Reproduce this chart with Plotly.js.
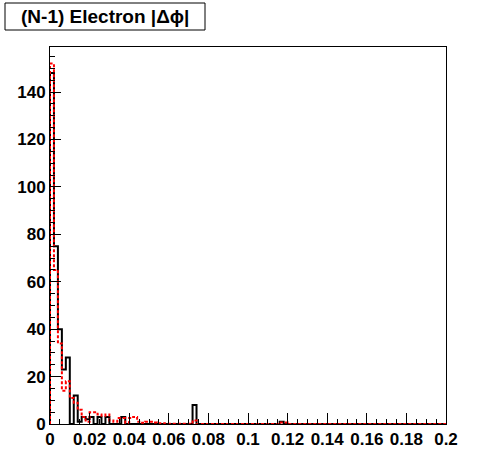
<!DOCTYPE html>
<html>
<head>
<meta charset="utf-8">
<script src="https://cdn.plot.ly/plotly-3.0.1.min.js"></script>
<style>html,body{margin:0;padding:0;background:#fff;}#chart{width:496px;height:472px;}</style>
</head>
<body>
<div id="chart"></div>
<script>
// Histogram definition: 100 bins from 0 to 0.2
var binLow = 0.0;
var binWidth = 0.002;
var nBins = 100;

// Data (black, solid) bin contents
var dataCounts = [
  148, 75, 40, 23, 28, 0, 12, 1, 3, 2,
  3, 0, 3, 0, 3, 0, 0, 0, 3, 0,
  0, 0, 0, 0, 0, 0, 0, 0, 0, 0,
  0, 0, 0, 0, 0, 0, 8, 0, 0, 0,
  0, 0, 0, 0, 0, 0, 0, 0, 0, 0,
  0, 0, 0, 0, 0, 0, 0, 0, 1, 0,
  0, 0, 0, 0, 0, 0, 0, 0, 0, 0,
  0, 0, 0, 0, 0, 0, 0, 0, 0, 0,
  0, 0, 0, 0, 0, 0, 0, 0, 0, 0,
  0, 0, 0, 0, 0, 0, 0, 0, 0, 0
];

// Simulation (red, dotted) bin contents
var mcCounts = [
  152, 65, 34, 14, 18, 11, 9, 6, 3, 1,
  5, 5, 4, 3.5, 4, 1.5, 1, 2.5, 2.5, 0.5,
  2.5, 3, 1, 0.5, 1, 1, 0.6, 0.3, 0.3, 0.1,
  0.1, 0.1, 0.1, 0.1, 0.1, 0.1, 1.5, 0.05, 0.05, 0.05,
  0.05, 0.05, 0.05, 0.05, 0.05, 0.05, 0.05, 0.05, 0.05, 0.05,
  0.05, 0.05, 0.05, 0.05, 0.05, 0.05, 0.05, 0.05, 0.6, 0.6,
  0, 0, 0, 0, 0, 0, 0, 0, 0, 0,
  0, 0, 0, 0, 0, 0, 0, 0, 0, 0,
  0, 0, 0, 0, 0, 0, 0, 0, 0, 0,
  0, 0, 0, 0, 0, 0, 0, 0, 0, 0
];

var xTickVals = [0, 0.02, 0.04, 0.06, 0.08, 0.1, 0.12, 0.14, 0.16, 0.18, 0.2];
var xTickText = ["0", "0.02", "0.04", "0.06", "0.08", "0.1", "0.12", "0.14", "0.16", "0.18", "0.2"];
var yTickVals = [0, 20, 40, 60, 80, 100, 120, 140];
var yTickText = ["0", "20", "40", "60", "80", "100", "120", "140"];
var titleText = "(N-1) Electron |Δϕ|";

function stepXY(counts) {
  var xs = [binLow], ys = [0];
  for (var i = 0; i < nBins; i++) {
    xs.push(binLow + i * binWidth);
    ys.push(counts[i]);
  }
  xs.push(binLow + nBins * binWidth);
  ys.push(counts[nBins - 1]);
  return {x: xs, y: ys};
}

var d = stepXY(dataCounts);
var m = stepXY(mcCounts);

var traces = [
  {x: d.x, y: d.y, type: 'scatter', mode: 'lines', line: {shape: 'hv', color: '#000000', width: 2}, hoverinfo: 'skip', showlegend: false},
  {x: m.x, y: m.y, type: 'scatter', mode: 'lines', line: {shape: 'hv', color: '#ff0000', width: 2, dash: '3px,2px'}, hoverinfo: 'skip', showlegend: false}
];

var L = 50, R = 50, T = 47, B = 48, W = 496, H = 472;
var pw = W - L - R, ph = H - T - B;
function px2x(px) { return (px - L) / pw; }
function py2y(py) { return (H - B - py) / ph; }

var tickFont = {family: 'Liberation Sans, Arial, sans-serif', size: 17, color: '#000', weight: 'bold'};

var layout = {
  width: W, height: H,
  margin: {l: L, r: R, t: T, b: B, pad: 0},
  paper_bgcolor: '#ffffff', plot_bgcolor: '#ffffff',
  showlegend: false,
  xaxis: {
    range: [0, 0.2], showgrid: false, zeroline: false,
    showline: true, linecolor: '#000', linewidth: 1, mirror: true,
    ticks: 'inside', ticklen: 11, tickwidth: 1, tickcolor: '#000',
    tickmode: 'array', tickvals: xTickVals, ticktext: xTickText,
    tickfont: tickFont,
    minor: {dtick: 0.005, ticks: 'inside', ticklen: 5, tickwidth: 1, tickcolor: '#000', showgrid: false}
  },
  yaxis: {
    range: [0, 159], showgrid: false, zeroline: false,
    showline: true, linecolor: '#000', linewidth: 1, mirror: true,
    ticks: 'inside', ticklen: 11, tickwidth: 1, tickcolor: '#000',
    tickmode: 'array', tickvals: yTickVals, ticktext: yTickText,
    tickfont: tickFont,
    minor: {dtick: 5, ticks: 'inside', ticklen: 5, tickwidth: 1, tickcolor: '#000', showgrid: false}
  },
  shapes: [
    {type: 'rect', xref: 'paper', yref: 'paper', x0: px2x(5), x1: px2x(205), y0: py2y(30), y1: py2y(3),
     line: {color: '#000', width: 1}, fillcolor: '#ffffff', layer: 'above'}
  ],
  annotations: [
    {xref: 'paper', yref: 'paper', x: px2x(105), y: py2y(16.5), xanchor: 'center', yanchor: 'middle',
     text: titleText, showarrow: false,
     font: {family: 'Liberation Sans, Arial, sans-serif', size: 19, color: '#000', weight: 'bold'}}
  ]
};

Plotly.newPlot('chart', traces, layout, {staticPlot: true, displayModeBar: false});
</script>
</body>
</html>
